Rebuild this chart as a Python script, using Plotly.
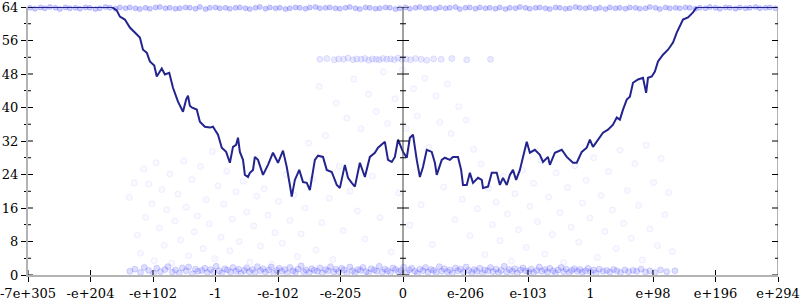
import plotly.graph_objects as go

# ---------------- data ----------------
x_tick_vals = [0, 1, 2, 3, 4, 5, 6, 7, 8, 9, 10, 11, 12]
x_tick_text = ["-7e+305", "-e+204", "-e+102", "-1", "-e-102", "-e-205", "0",
               "e-206", "e-103", "1", "e+98", "e+196", "e+294"]
y_major = [0, 8, 16, 24, 32, 40, 48, 56, 64]
y_minor = [4, 12, 20, 28, 36, 44, 52, 60]

line_x = [0.00, 1.34, 1.42, 1.47, 1.55, 1.63, 1.71, 1.79, 1.84, 1.90,
          1.95, 2.02, 2.06, 2.11, 2.14, 2.19, 2.26, 2.32, 2.40, 2.48,
          2.53, 2.56, 2.59, 2.62, 2.70, 2.75, 2.83, 2.91, 2.96, 2.99,
          3.04, 3.10, 3.17, 3.23, 3.28, 3.33, 3.36, 3.39, 3.44, 3.47,
          3.52, 3.55, 3.60, 3.63, 3.68, 3.76, 3.84, 3.92, 4.00, 4.08,
          4.14, 4.19, 4.22, 4.27, 4.34, 4.40, 4.46, 4.51, 4.59, 4.64,
          4.72, 4.78, 4.86, 4.94, 4.99, 5.07, 5.12, 5.18, 5.23, 5.31,
          5.39, 5.47, 5.55, 5.60, 5.68, 5.71, 5.76, 5.82, 5.87, 5.92,
          6.00, 6.06, 6.11, 6.16, 6.22, 6.27, 6.32, 6.38, 6.46, 6.51,
          6.54, 6.62, 6.67, 6.75, 6.80, 6.88, 6.93, 6.96, 7.02, 7.07,
          7.12, 7.20, 7.26, 7.28, 7.36, 7.42, 7.50, 7.55, 7.60, 7.66,
          7.71, 7.76, 7.81, 7.87, 7.94, 7.98, 8.03, 8.11, 8.19, 8.24,
          8.32, 8.35, 8.43, 8.54, 8.62, 8.72, 8.78, 8.86, 8.94, 8.99,
          9.04, 9.12, 9.20, 9.28, 9.36, 9.42, 9.47, 9.52, 9.58, 9.63,
          9.68, 9.76, 9.84, 9.89, 9.92, 9.98, 10.03, 10.08, 10.16, 10.24,
          10.32, 10.38, 10.43, 10.48, 10.56, 10.64, 10.70, 12.00]
line_y = [64.0, 64.0, 63.2, 61.7, 61.0, 59.1, 57.9, 56.7, 53.8, 53.1,
          51.0, 50.0, 47.4, 48.6, 49.3, 47.9, 48.3, 44.7, 41.4, 39.0,
          41.9, 42.8, 40.4, 40.0, 39.5, 36.6, 35.4, 35.2, 35.4, 34.7,
          33.5, 30.4, 29.4, 26.8, 30.6, 31.1, 32.8, 29.4, 27.5, 23.9,
          23.4, 24.4, 25.1, 28.2, 27.5, 23.9, 26.3, 29.2, 26.8, 29.7,
          25.8, 21.5, 18.7, 22.7, 25.1, 22.2, 22.0, 20.3, 27.5, 28.5,
          28.2, 25.1, 24.6, 21.5, 20.8, 26.3, 23.2, 22.0, 21.1, 26.8,
          23.4, 28.2, 29.2, 30.4, 31.6, 31.8, 27.5, 27.0, 28.2, 32.3,
          29.4, 28.0, 32.8, 33.5, 27.5, 23.4, 25.8, 29.9, 29.4, 26.8,
          23.9, 27.5, 28.0, 27.5, 28.2, 28.2, 25.1, 21.5, 21.5, 24.4,
          22.0, 23.2, 22.7, 20.8, 21.1, 24.4, 24.4, 21.5, 23.2, 21.5,
          23.9, 25.1, 22.7, 25.1, 29.4, 31.8, 29.2, 29.9, 28.7, 27.0,
          28.2, 26.3, 29.2, 29.9, 28.2, 26.8, 26.8, 29.4, 30.4, 32.3,
          30.6, 32.3, 34.0, 34.7, 35.9, 37.6, 37.1, 39.5, 41.9, 42.6,
          45.9, 46.7, 47.1, 43.5, 47.1, 47.4, 48.6, 51.0, 52.6, 53.8,
          55.5, 57.9, 59.3, 61.0, 61.5, 62.7, 64.0, 64.0]

top_x = [0.03, 0.11, 0.20, 0.27, 0.35, 0.44, 0.51, 0.60, 0.67, 0.76,
         0.83, 0.92, 0.99, 1.08, 1.15, 1.24, 1.31, 1.40, 1.47, 1.56,
         1.63, 1.72, 1.79, 1.88, 1.95, 2.04, 2.11, 2.20, 2.27, 2.36,
         2.43, 2.52, 2.59, 2.68, 2.75, 2.84, 2.91, 3.00, 3.07, 3.16,
         3.23, 3.32, 3.39, 3.48, 3.55, 3.64, 3.71, 3.80, 3.87, 3.96,
         4.03, 4.12, 4.19, 4.28, 4.35, 4.44, 4.51, 4.60, 4.67, 4.76,
         4.83, 4.92, 4.99, 5.08, 5.15, 5.24, 5.31, 5.40, 5.47, 5.56,
         5.63, 5.72, 5.79, 5.88, 5.95, 6.04, 6.11, 6.20, 6.27, 6.36,
         6.43, 6.52, 6.59, 6.68, 6.75, 6.84, 6.91, 7.00, 7.07, 7.16,
         7.23, 7.32, 7.39, 7.48, 7.55, 7.64, 7.71, 7.80, 7.87, 7.96,
         8.03, 8.12, 8.19, 8.28, 8.35, 8.44, 8.51, 8.60, 8.67, 8.76,
         8.83, 8.92, 8.99, 9.08, 9.15, 9.24, 9.31, 9.40, 9.47, 9.56,
         9.63, 9.72, 9.79, 9.88, 9.95, 10.04, 10.11, 10.20, 10.27, 10.36,
         10.43, 10.52, 10.59, 10.68, 10.75, 10.84, 10.91, 11.00, 11.07, 11.16,
         11.23, 11.32, 11.39, 11.48, 11.55, 11.64, 11.71, 11.80, 11.87, 11.96]
top_y = [63.8, 63.6, 63.9, 63.7, 64.0, 63.8, 63.5, 63.9, 63.7, 63.8,
         63.6, 63.9, 63.8, 63.5, 63.7, 64.0, 63.8, 63.6, 63.9, 63.7,
         63.9, 63.7, 63.5, 63.8, 63.6, 63.9, 64.0, 63.7, 63.8, 63.6,
         63.7, 63.9, 63.8, 63.6, 64.0, 63.5, 63.8, 63.9, 63.7, 63.8,
         63.6, 63.8, 63.9, 63.7, 63.5, 63.8, 64.0, 63.6, 63.9, 63.7,
         63.8, 63.5, 63.7, 63.9, 63.8, 63.6, 63.9, 64.0, 63.7, 63.8,
         63.9, 63.7, 63.6, 63.8, 64.0, 63.7, 63.5, 63.9, 63.8, 63.6,
         63.7, 63.9, 63.8, 63.5, 63.7, 63.9, 63.6, 63.8, 64.0, 63.7,
         63.8, 63.6, 63.9, 63.7, 63.8, 64.0, 63.5, 63.8, 63.9, 63.6,
         63.9, 63.7, 63.8, 63.6, 63.9, 63.5, 63.8, 63.7, 64.0, 63.8,
         63.6, 63.8, 63.9, 63.7, 63.5, 63.9, 63.8, 63.6, 63.7, 64.0,
         63.8, 63.7, 63.9, 63.6, 63.8, 63.5, 63.9, 63.7, 63.8, 63.6,
         63.9, 63.8, 63.6, 63.7, 64.0, 63.8, 63.5, 63.9, 63.7, 63.8,
         63.7, 63.9, 63.8, 63.6, 63.8, 63.7, 64.0, 63.8, 63.6, 63.9,
         63.8, 63.6, 63.9, 63.7, 63.8, 64.0, 63.7, 63.8, 63.9, 63.7]

mid_x = [4.67, 4.78, 4.90, 4.97, 5.05, 5.12, 5.20, 5.26, 5.33, 5.39,
         5.45, 5.51, 5.57, 5.62, 5.68, 5.74, 5.80, 5.86, 5.92, 5.98,
         6.05, 6.12, 6.20, 6.29, 6.38, 6.49, 6.61, 6.78, 7.02, 7.40]
mid_y = [51.5, 51.7, 51.4, 51.6, 51.5, 51.8, 51.4, 51.6, 51.5, 51.7,
         51.3, 51.6, 51.5, 51.4, 51.7, 51.5, 51.6, 51.4, 51.8, 51.5,
         51.6, 51.4, 51.7, 51.5, 51.3, 51.6, 51.5, 51.7, 51.4, 51.5]

bottom_x = [1.63, 1.71, 1.80, 1.86, 1.93, 2.01, 2.06, 2.12, 2.19, 2.24,
            2.31, 2.36, 2.42, 2.47, 2.53, 2.57, 2.63, 2.68, 2.72, 2.78,
            2.83, 2.87, 2.92, 2.97, 3.01, 3.06, 3.10, 3.15, 3.19, 3.24,
            3.28, 3.33, 3.37, 3.41, 3.46, 3.50, 3.54, 3.59, 3.63, 3.67,
            3.72, 3.76, 3.80, 3.85, 3.89, 3.93, 3.98, 4.02, 4.06, 4.11,
            4.15, 4.19, 4.24, 4.28, 4.32, 4.37, 4.41, 4.45, 4.50, 4.54,
            4.58, 4.63, 4.67, 4.71, 4.76, 4.80, 4.84, 4.89, 4.93, 4.97,
            5.02, 5.06, 5.10, 5.15, 5.19, 5.23, 5.28, 5.32, 5.36, 5.41,
            5.45, 5.49, 5.54, 5.58, 5.62, 5.67, 5.71, 5.75, 5.80, 5.84,
            5.88, 5.93, 5.97, 6.01, 6.06, 6.10, 6.14, 6.19, 6.23, 6.27,
            6.32, 6.36, 6.40, 6.45, 6.49, 6.53, 6.58, 6.62, 6.66, 6.71,
            6.75, 6.79, 6.84, 6.88, 6.92, 6.97, 7.01, 7.05, 7.10, 7.14,
            7.18, 7.23, 7.27, 7.31, 7.36, 7.40, 7.44, 7.49, 7.53, 7.57,
            7.62, 7.66, 7.70, 7.75, 7.79, 7.83, 7.88, 7.92, 7.96, 8.01,
            8.05, 8.09, 8.14, 8.18, 8.22, 8.27, 8.31, 8.35, 8.40, 8.44,
            8.48, 8.53, 8.57, 8.61, 8.66, 8.70, 8.74, 8.79, 8.83, 8.87,
            8.92, 8.96, 9.00, 9.05, 9.09, 9.14, 9.20, 9.26, 9.31, 9.37,
            9.42, 9.48, 9.55, 9.61, 9.68, 9.74, 9.81, 9.88, 9.95, 10.03,
            10.12, 10.22, 10.35]
bottom_y = [0.9, 1.4, 0.6, 1.8, 1.1, 0.4, 1.6, 0.8, 1.3, 2.0,
            0.7, 1.2, 0.5, 1.7, 1.0, 1.9, 0.3, 1.4, 0.9, 1.1,
            1.6, 0.6, 1.3, 0.8, 2.1, 1.0, 0.5, 1.5, 1.2, 0.7,
            1.8, 0.9, 1.4, 0.4, 1.1, 1.7, 0.8, 1.3, 0.6, 2.0,
            1.0, 1.5, 0.7, 1.2, 1.9, 0.5, 1.1, 1.6, 0.9, 1.3,
            0.4, 1.8, 1.0, 0.7, 1.4, 2.2, 0.8, 1.2, 0.6, 1.5,
            1.1, 0.9, 1.7, 0.5, 1.3, 1.0, 2.0, 0.7, 1.4, 0.8,
            1.6, 1.2, 0.4, 1.9, 1.0, 0.6, 1.3, 1.1, 1.8, 0.8,
            0.5, 1.5, 1.2, 0.9, 2.1, 0.7, 1.4, 1.0, 0.6, 1.7,
            1.3, 0.8, 1.1, 1.9, 0.5, 1.2, 1.6, 0.9, 0.4, 1.4,
            1.0, 1.8, 0.7, 1.3, 1.1, 0.6, 2.0, 0.9, 1.5, 0.8,
            1.2, 0.5, 1.7, 1.0, 1.4, 0.7, 1.9, 1.1, 0.6, 1.3,
            0.9, 1.6, 0.4, 1.2, 1.0, 1.8, 0.8, 1.4, 0.6, 1.1,
            2.1, 0.7, 1.3, 0.9, 1.5, 0.5, 1.2, 1.7, 1.0, 0.8,
            1.4, 0.6, 1.1, 1.9, 0.9, 1.3, 0.7, 1.6, 1.0, 0.5,
            1.2, 1.8, 0.8, 1.4, 0.6, 1.1, 1.5, 0.9, 1.3, 0.7,
            1.0, 1.6, 0.8, 1.2, 0.5, 1.4, 0.9, 1.1, 0.7, 1.3,
            1.0, 0.6, 1.2, 0.8, 1.1, 0.9, 1.4, 0.7, 1.0, 0.6,
            1.2, 0.8, 1.0]

scatter_x = [1.62, 1.70, 1.75, 1.80, 1.85, 1.88, 1.93, 1.98, 2.02, 2.05,
             2.10, 2.14, 2.18, 2.22, 2.27, 2.30, 2.35, 2.40, 2.44, 2.49,
             2.53, 2.57, 2.62, 2.66, 2.71, 2.76, 2.80, 2.85, 2.90, 2.95,
             2.99, 3.04, 3.09, 3.13, 3.18, 3.23, 3.27, 3.33, 3.38, 3.44,
             3.50, 3.55, 3.61, 3.66, 3.72, 3.78, 3.84, 3.90, 3.95, 4.01,
             4.07, 4.13, 4.19, 4.25, 4.31, 4.37, 4.43, 4.49, 4.55, 4.61,
             4.66, 4.70, 4.76, 4.82, 4.88, 4.93, 4.98, 5.04, 5.10, 5.15,
             5.21, 5.27, 5.33, 5.39, 5.45, 5.51, 5.57, 5.63, 5.69, 5.75,
             5.81, 5.87, 5.93, 5.99, 6.05, 6.11, 6.17, 6.23, 6.29, 6.35,
             6.41, 6.47, 6.53, 6.59, 6.65, 6.71, 6.77, 6.83, 6.89, 6.95,
             7.01, 7.07, 7.13, 7.19, 7.25, 7.31, 7.37, 7.43, 7.49, 7.55,
             7.61, 7.67, 7.73, 7.79, 7.85, 7.91, 7.97, 8.03, 8.09, 8.15,
             8.21, 8.27, 8.33, 8.39, 8.45, 8.51, 8.57, 8.63, 8.69, 8.75,
             8.81, 8.87, 8.93, 8.99, 9.05, 9.11, 9.17, 9.23, 9.29, 9.35,
             9.41, 9.47, 9.53, 9.59, 9.65, 9.71, 9.77, 9.83, 9.89, 9.95,
             10.01, 10.07, 10.13, 10.19, 10.25, 10.31]
scatter_y = [18.5, 22.0, 9.5, 5.2, 25.3, 13.8, 21.7, 17.0, 3.4, 26.8,
             11.2, 20.4, 7.1, 15.6, 24.1, 2.8, 12.9, 19.3, 8.4, 27.2,
             16.2, 4.6, 22.8, 10.3, 14.1, 25.9, 6.3, 18.0, 12.2, 29.5,
             3.9, 21.3, 9.0, 16.9, 24.8, 5.8, 13.4, 19.9, 8.0, 22.4,
             15.0, 3.1, 11.7, 18.8, 6.9, 20.6, 14.3, 2.6, 10.1, 17.6,
             7.6, 24.0, 13.0, 19.1, 4.4, 9.8, 16.0, 31.5, 22.9, 6.0,
             45.0, 12.5, 33.3, 18.3, 3.7, 41.0, 26.0, 10.6, 37.5, 20.0,
             46.8, 15.3, 34.9, 8.6, 43.2, 23.6, 39.0, 13.7, 48.5, 36.2,
             5.5, 42.1, 19.6, 49.0, 35.0, 11.9, 44.5, 38.0, 16.8, 47.0,
             30.5, 7.3, 42.8, 36.5, 21.0, 45.6, 33.8, 13.2, 40.2, 18.1,
             37.0, 9.4, 30.0, 15.8, 26.5, 4.9, 20.7, 12.0, 17.4, 8.2,
             23.5, 14.6, 3.3, 19.4, 10.8, 25.0, 6.6, 16.4, 21.9, 12.7,
             27.3, 5.0, 18.6, 9.7, 24.4, 14.9, 3.0, 20.9, 11.4, 26.1,
             7.8, 17.2, 22.6, 13.6, 28.0, 4.2, 19.0, 10.4, 24.7, 15.5,
             6.4, 29.8, 12.3, 20.2, 8.8, 26.6, 16.6, 3.6, 31.0, 11.0,
             22.1, 7.0, 27.8, 14.4, 19.7, 5.6]

# ---------------- styling ----------------
FONT = "'DejaVu Serif', serif"
AXIS_GRAY = "#b3b3b3"
LINE_COLOR = "#24248f"

fig = go.Figure()

def pts(xs, ys, fill, edge, size):
    fig.add_trace(go.Scatter(
        x=xs, y=ys, mode="markers", cliponaxis=False, hoverinfo="skip",
        marker=dict(size=size, color=fill, line=dict(width=1, color=edge)),
        showlegend=False))

pts(scatter_x, scatter_y, "rgba(60,60,255,0.03)", "rgba(60,60,255,0.07)", 6)
pts(mid_x, mid_y, "rgba(50,50,255,0.10)", "rgba(50,50,255,0.12)", 6)
pts(bottom_x, bottom_y, "rgba(50,50,255,0.16)", "rgba(50,50,255,0.16)", 6)
pts(top_x, top_y, "rgba(50,50,255,0.25)", "rgba(50,50,255,0.22)", 5)

fig.add_trace(go.Scatter(
    x=line_x, y=line_y, mode="lines", cliponaxis=False,
    line=dict(color=LINE_COLOR, width=2), showlegend=False))

shapes = []
for v in y_major:
    shapes.append(dict(type="line", xref="x", yref="y", xsizemode="pixel", xanchor=0,
                       x0=0, x1=5, y0=v, y1=v, line=dict(color="black", width=1)))
for v in y_minor:
    shapes.append(dict(type="line", xref="x", yref="y", xsizemode="pixel", xanchor=0,
                       x0=0, x1=3, y0=v, y1=v, line=dict(color="black", width=1)))
for v in x_tick_vals:
    shapes.append(dict(type="line", xref="x", yref="y", ysizemode="pixel", yanchor=0,
                       x0=v, x1=v, y0=0, y1=5, line=dict(color="black", width=1)))
shapes.append(dict(type="line", xref="x", yref="y", x0=6, x1=6, y0=0, y1=64,
                   line=dict(color="#444444", width=1)))
for v in y_major:
    shapes.append(dict(type="line", xref="x", yref="y", xsizemode="pixel", xanchor=6,
                       x0=-6, x1=6, y0=v, y1=v, line=dict(color="black", width=1)))
for v in y_minor:
    shapes.append(dict(type="line", xref="x", yref="y", xsizemode="pixel", xanchor=6,
                       x0=-3, x1=3, y0=v, y1=v, line=dict(color="black", width=1)))
shapes.append(dict(type="line", xref="x", yref="y", x0=12, x1=12, y0=0, y1=64,
                   line=dict(color=AXIS_GRAY, width=2)))
for v in y_major:
    shapes.append(dict(type="line", xref="x", yref="y", xsizemode="pixel", xanchor=12,
                       x0=-6, x1=5, y0=v, y1=v, line=dict(color="black", width=1)))
for v in y_minor:
    shapes.append(dict(type="line", xref="x", yref="y", xsizemode="pixel", xanchor=12,
                       x0=-3, x1=2, y0=v, y1=v, line=dict(color="black", width=1)))

fig.update_layout(
    width=800, height=300,
    margin=dict(l=28, r=22, t=7, b=25, autoexpand=False),
    paper_bgcolor="white", plot_bgcolor="white",
    font=dict(family=FONT, size=13, color="black"),
    shapes=shapes,
    xaxis=dict(range=[0, 12], tickmode="array", tickvals=x_tick_vals, ticktext=x_tick_text,
               showgrid=False, zeroline=False, showline=True, linecolor=AXIS_GRAY, linewidth=2,
               ticks="outside", ticklen=5, tickcolor="black", tickwidth=1, automargin=False,
               ticklabeloverflow="allow", tickfont=dict(family=FONT, size=13)),
    yaxis=dict(range=[0, 64], tickmode="array", tickvals=y_major,
               showgrid=False, zeroline=False, showline=True, linecolor=AXIS_GRAY, linewidth=2,
               ticks="outside", ticklen=5, tickcolor="black", tickwidth=1, automargin=False,
               ticklabeloverflow="allow",
               minor=dict(tickmode="array", tickvals=y_minor, ticks="outside", ticklen=2,
                          tickcolor="black"),
               tickfont=dict(family=FONT, size=13)),
)

fig.write_html("out.html")
